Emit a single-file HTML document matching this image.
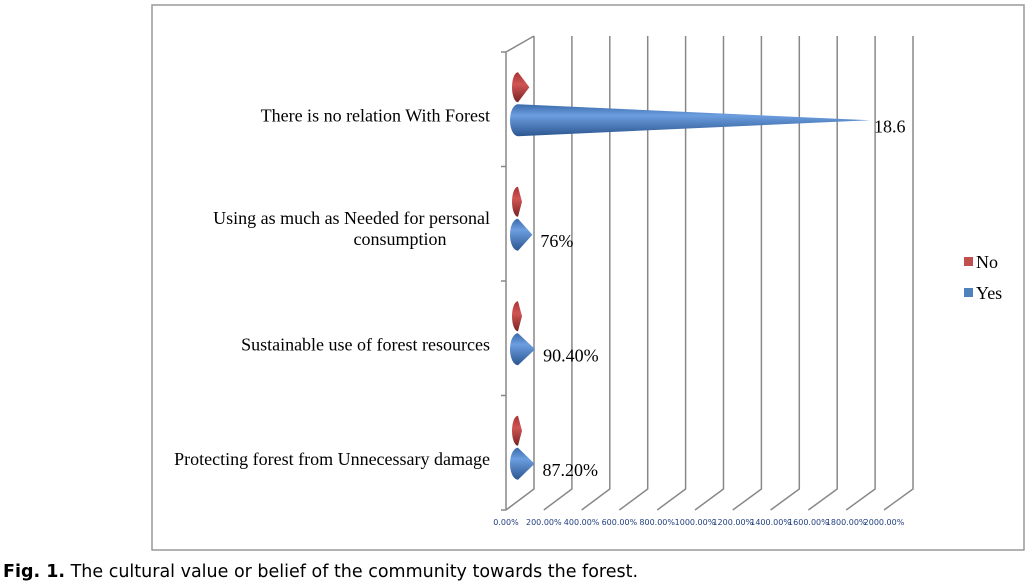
<!DOCTYPE html>
<html><head><meta charset="utf-8"><style>
body{margin:0;background:#fff;width:1032px;height:584px;overflow:hidden;position:relative}
svg{position:absolute;left:0;top:0}
</style></head><body>
<svg id="c" width="1032" height="584" font-family="'Liberation Serif',serif">
<defs>
<linearGradient id="gb" x1="0" y1="0" x2="0" y2="1"><stop offset="0" stop-color="#3a6aaa"/><stop offset="0.35" stop-color="#6c9ee0"/><stop offset="1" stop-color="#2c5690"/></linearGradient>
<linearGradient id="gr" x1="0" y1="0" x2="0" y2="1"><stop offset="0" stop-color="#a33"/><stop offset="0.4" stop-color="#d05555"/><stop offset="1" stop-color="#7a2222"/></linearGradient>
</defs>
<rect x="152" y="5" width="872" height="545" fill="none" stroke="#999" stroke-width="1.5"/>
<g id="grid"></g><g id="marks"></g>
<rect x="964" y="257" width="9" height="9" fill="#c0504d"/>
<text x="976" y="268" font-size="18">No</text>
<rect x="964" y="288" width="9" height="9" fill="#4f81bd"/>
<text x="976" y="299" font-size="18">Yes</text>
<text x="3" y="577" font-size="17.5" font-family="'DejaVu Sans',sans-serif"><tspan font-weight="bold">Fig. 1.</tspan> The cultural value or belief of the community towards the forest.</text>
</svg>
<script>
const categories=["There is no relation With Forest","Using as much as Needed for personal|consumption","Sustainable use of forest resources","Protecting forest from Unnecessary damage"];
const yesValues=[1860,76,90.4,87.2];
const noValues=[60,10,10,10];
const yesLabels=["18.6","76%","90.40%","87.20%"];
const tickValues=[0,200,400,600,800,1000,1200,1400,1600,1800,2000];
const NS="http://www.w3.org/2000/svg";
const g=document.getElementById('grid'),m=document.getElementById('marks');
function mk(t,a,p){const e=document.createElementNS(NS,t);for(const k in a)e.setAttribute(k,a[k]);p.appendChild(e);return e;}
const fx=v=>506+v*(378/2000), bx=v=>534+v*(379/2000), cx=v=>518+v*(352/1860);
const top0=52,bot=510,band=(bot-top0)/categories.length;
const cy=i=>top0+band*i+band/2;
tickValues.forEach((v,i)=>{
 const l=mk('path',{d:`M${fx(v)},${bot} L${bx(v)},${bot-21} L${bx(v)},36`,fill:'none',stroke:'#888','stroke-width':1.5},g);
 
 
 const t=mk('text',{x:fx(v),y:525,'font-size':8,'text-anchor':'middle',fill:'#1f3f7f','font-family':"'DejaVu Sans',sans-serif"},g);
 t.textContent=v.toFixed(2)+'%';
 
 
});
const ax=mk('path',{d:`M${fx(0)},${top0} L${fx(0)},${bot} M${fx(0)},${top0} L${bx(0)},36`,fill:'none',stroke:'#888','stroke-width':1.5},g);


for(let i=0;i<=categories.length;i++){const y=top0+band*i;const tk=mk('line',{x1:fx(0)-5,x2:fx(0),y1:y,y2:y,stroke:'#888','stroke-width':1.5},g);
 
 }
function cone(v,y,h,fill,name,rx){
 const x0=cx(0),x1=Math.max(cx(v),x0+4);
 const p=mk('path',{d:`M${x0},${y-h} L${x1},${y} L${x0},${y+h} A${rx} ${h} 0 0 1 ${x0},${y-h} Z`,fill:fill},m);
 
 
}
categories.forEach((c,i)=>{
 const y=cy(i);
 cone(noValues[i],y-22,15,'url(#gr)','no-cone',6);
 cone(yesValues[i],y+11,16,'url(#gb)','yes-cone',8);
 const lt=mk('text',{x:cx(yesValues[i])+(i==0?4:8),y:y+23,'font-size':18},m);
 lt.textContent=yesLabels[i];
 
 
 const parts=c.split('|');
 parts.forEach((s,j)=>{
  const t=mk('text',{x:j==0?490:400,y:y+(parts.length>1?0:12)+j*21,'font-size':18,'text-anchor':j==0?'end':'middle'},m);
  t.textContent=s;
  
  
 });
});
</script>
</body></html>
